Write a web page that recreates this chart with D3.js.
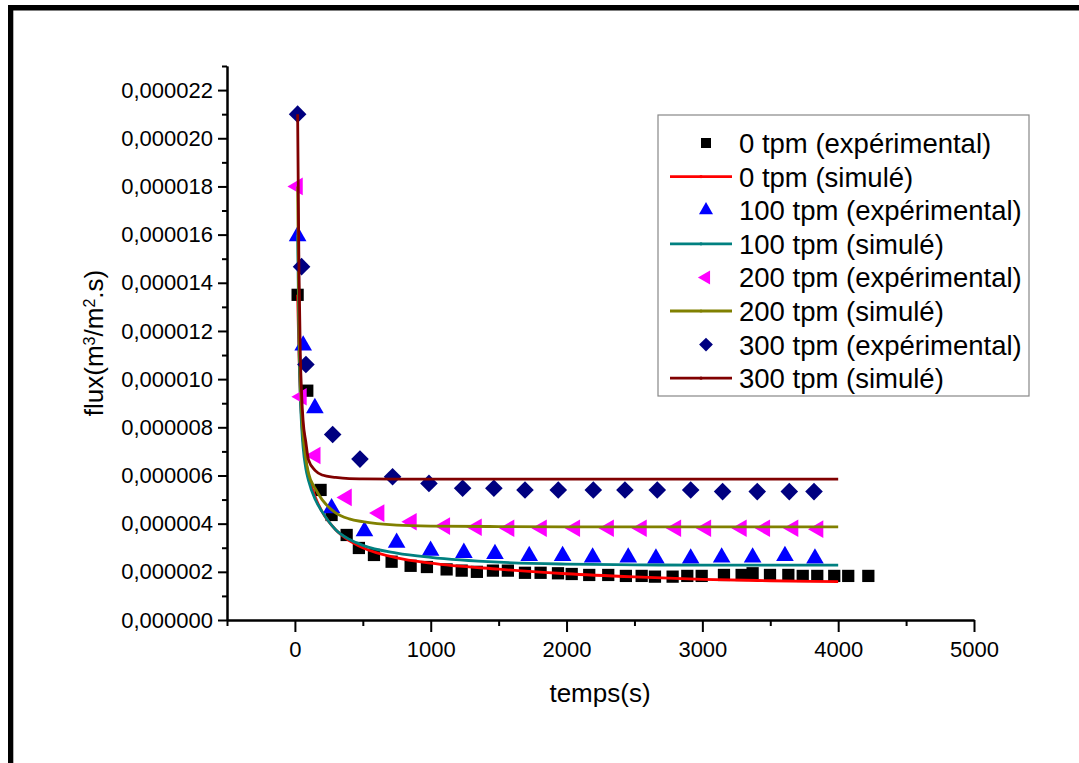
<!DOCTYPE html>
<html>
<head>
<meta charset="utf-8">
<script src="https://cdn.jsdelivr.net/npm/d3@7"></script>
<style>
  html, body { margin: 0; padding: 0; background: #fff; }
  svg { display: block; font-family: "Liberation Sans", Arial, sans-serif; }
</style>
</head>
<body>
<svg id="chart" width="1079" height="763"></svg>
<script>
// Flux values are in units of 1e-6 m3/m2.s; times in seconds.
const exp0Time = [20, 91, 189, 270, 381, 471, 582, 712, 852, 972, 1117, 1228, 1340, 1458, 1568, 1694, 1809, 1937, 2038, 2167, 2307, 2437, 2553, 2651, 2781, 2889, 2995, 3159, 3289, 3370, 3498, 3633, 3739, 3846, 3971, 4074, 4222];
const exp0Flux = [13.5, 9.52, 5.4, 4.36, 3.53, 2.99, 2.70, 2.42, 2.25, 2.20, 2.10, 2.05, 2.00, 2.05, 2.05, 1.96, 1.96, 1.94, 1.91, 1.87, 1.87, 1.83, 1.83, 1.80, 1.80, 1.83, 1.83, 1.87, 1.87, 1.94, 1.87, 1.87, 1.83, 1.83, 1.83, 1.83, 1.83];

const exp100Time = [20, 61, 147, 270, 512, 749, 999, 1244, 1473, 1725, 1971, 2192, 2454, 2658, 2914, 3142, 3370, 3608, 3829];
const exp100Flux = [15.94, 11.4, 8.8, 4.64, 3.69, 3.21, 2.88, 2.79, 2.74, 2.66, 2.66, 2.60, 2.60, 2.56, 2.56, 2.60, 2.60, 2.66, 2.56];

const exp200Time = [20, 49, 151, 381, 621, 859, 1105, 1338, 1578, 1817, 2062, 2311, 2553, 2806, 3027, 3289, 3461, 3669, 3853];
const exp200Flux = [18.0, 9.27, 6.83, 5.09, 4.44, 4.08, 3.90, 3.85, 3.81, 3.81, 3.81, 3.81, 3.81, 3.81, 3.81, 3.81, 3.81, 3.81, 3.77];

const exp300Time = [20, 49, 81, 278, 479, 719, 987, 1235, 1465, 1694, 1939, 2197, 2430, 2668, 2914, 3149, 3404, 3640, 3822];
const exp300Flux = [21.0, 14.67, 10.61, 7.70, 6.68, 5.95, 5.67, 5.47, 5.47, 5.40, 5.40, 5.40, 5.40, 5.40, 5.40, 5.33, 5.33, 5.33, 5.33];

const simTime = [20, 30, 40, 50, 60, 80, 100, 150, 200, 300, 400, 500, 750, 1000, 1500, 2000, 2500, 3000, 3500, 4000];
const sim0Flux   = [13.5, 11.0, 9.4, 8.3, 7.5, 6.6, 6.0, 5.1, 4.5, 3.75, 3.3, 3.0, 2.58, 2.36, 2.11, 1.92, 1.79, 1.69, 1.63, 1.59];
const sim100Flux = [16.0, 11.5, 9.2, 8.0, 7.2, 6.3, 5.8, 5.0, 4.5, 3.75, 3.35, 3.1, 2.78, 2.6, 2.4, 2.32, 2.29, 2.28, 2.28, 2.28];
const sim200Flux = [18.0, 12.5, 10.0, 8.6, 7.7, 6.7, 6.1, 5.45, 5.0, 4.45, 4.2, 4.08, 3.94, 3.9, 3.88, 3.87, 3.87, 3.87, 3.87, 3.87];
const sim300Flux = [21.0, 14.5, 11.0, 9.3, 8.3, 7.4, 6.65, 6.2, 6.02, 5.92, 5.87, 5.86, 5.85, 5.85, 5.85, 5.85, 5.85, 5.85, 5.85, 5.85];

const xMajorTicks = [0, 1000, 2000, 3000, 4000, 5000];
const xMinorTicks = [-500, 500, 1500, 2500, 3500, 4500];
const yMajorTicks = [0, 2, 4, 6, 8, 10, 12, 14, 16, 18, 20, 22];
const yMinorTicks = [1, 3, 5, 7, 9, 11, 13, 15, 17, 19, 21, 23];

const legendLabels = [
  "0 tpm (expérimental)", "0 tpm (simulé)",
  "100 tpm (expérimental)", "100 tpm (simulé)",
  "200 tpm (expérimental)", "200 tpm (simulé)",
  "300 tpm (expérimental)", "300 tpm (simulé)"
];

const svg = d3.select("#chart");

// outer frame (top and left black edges)
svg.append("rect").attr("x", 8).attr("y", 5).attr("width", 1071).attr("height", 5.5).attr("fill", "#000");
svg.append("rect").attr("x", 8).attr("y", 5).attr("width", 5.3).attr("height", 758).attr("fill", "#000");

const x = d3.scaleLinear().domain([-500, 5000]).range([227, 974]);
const y = d3.scaleLinear().domain([0, 23]).range([620, 66]);

const fmtY = v => d3.format(".6f")(v * 1e-6).replace(".", ",");

// axes
const gx = svg.append("g").attr("transform", `translate(0,${y(0)})`);
gx.call(d3.axisBottom(x).tickValues(xMajorTicks).tickSize(12).tickSizeOuter(0).tickPadding(6).tickFormat(d3.format("d")));
gx.append("g").call(d3.axisBottom(x).tickValues(xMinorTicks).tickSize(6).tickSizeOuter(0).tickFormat(""));
const gy = svg.append("g").attr("transform", `translate(${x(-500)},0)`);
gy.call(d3.axisLeft(y).tickValues(yMajorTicks).tickSize(9).tickSizeOuter(0).tickPadding(5).tickFormat(fmtY));
gy.append("g").call(d3.axisLeft(y).tickValues(yMinorTicks).tickSize(5).tickSizeOuter(0).tickFormat(""));

svg.selectAll(".domain").attr("stroke", "#000").attr("stroke-width", 2);
svg.selectAll(".tick line").attr("stroke", "#000").attr("stroke-width", 2);
svg.selectAll(".tick text").attr("font-size", 22).attr("fill", "#000")
  .attr("font-family", "'Liberation Sans', Arial, sans-serif");
gx.selectAll(".tick text").attr("dy", "0.85em");

// axis titles
svg.append("text").attr("x", 600).attr("y", 702).attr("text-anchor", "middle")
  .attr("font-size", 26).attr("fill", "#000").text("temps(s)");
const yt = svg.append("text").attr("transform", "translate(103,343) rotate(-90)")
  .attr("text-anchor", "middle").attr("font-size", 26).attr("fill", "#000");
yt.append("tspan").text("flux(m");
yt.append("tspan").attr("baseline-shift", "super").attr("font-size", 16).text("3");
yt.append("tspan").text("/m");
yt.append("tspan").attr("baseline-shift", "super").attr("font-size", 16).text("2");
yt.append("tspan").text(".s)");

// marker shapes
const shapes = {
  square:   { sym: d3.symbolSquare,   size: 150, rot: 0 },
  triangle: { sym: d3.symbolTriangle, size: 135, rot: 0 },
  left:     { sym: d3.symbolTriangle, size: 135, rot: -90 },
  diamond:  { sym: d3.symbolSquare,   size: 155, rot: 45 }
};

const series = [
  { times: exp0Time,   flux: exp0Flux,   color: "#000000", shape: "square" },
  { times: simTime,    flux: sim0Flux,   color: "#ff0000", line: true },
  { times: exp100Time, flux: exp100Flux, color: "#0000ff", shape: "triangle" },
  { times: simTime,    flux: sim100Flux, color: "#008080", line: true },
  { times: exp200Time, flux: exp200Flux, color: "#ff00ff", shape: "left" },
  { times: simTime,    flux: sim200Flux, color: "#808000", line: true },
  { times: exp300Time, flux: exp300Flux, color: "#000080", shape: "diamond" },
  { times: simTime,    flux: sim300Flux, color: "#800000", line: true }
];

const lineGen = d3.line().x(d => x(d[0])).y(d => y(d[1])).curve(d3.curveMonotoneX);
const plot = svg.append("g");

series.forEach(s => {
  const pts = s.times.map((t, i) => [t, s.flux[i]]);
  if (s.line) {
    plot.append("path").datum(pts).attr("d", lineGen)
      .attr("fill", "none").attr("stroke", s.color).attr("stroke-width", 2.8);
  } else {
    const sh = shapes[s.shape];
    plot.append("g").selectAll("path").data(pts).join("path")
      .attr("d", d3.symbol(sh.sym, sh.size))
      .attr("transform", d => `translate(${x(d[0])},${y(d[1])}) rotate(${sh.rot})`)
      .attr("fill", s.color);
  }
});

// legend
const lg = svg.append("g");
lg.append("rect").attr("x", 658).attr("y", 115).attr("width", 371).attr("height", 281)
  .attr("fill", "#fff").attr("stroke", "#888").attr("stroke-width", 1.2);
const legendSizes = { square: 100, triangle: 85, left: 85, diamond: 95 };
series.forEach((s, i) => {
  const cy = 143 + i * 33.6;
  if (s.line) {
    lg.append("line").attr("x1", 670).attr("x2", 732).attr("y1", cy).attr("y2", cy)
      .attr("stroke", s.color).attr("stroke-width", 2.8);
    lg.append("circle").attr("cx", 701).attr("cy", cy).attr("r", 1.6).attr("fill", s.color);
  } else {
    const sh = shapes[s.shape];
    lg.append("path").attr("d", d3.symbol(sh.sym, legendSizes[s.shape]))
      .attr("transform", `translate(706,${cy}) rotate(${sh.rot})`).attr("fill", s.color);
  }
  lg.append("text").attr("x", 739).attr("y", cy).attr("dy", "0.36em")
    .attr("font-size", 27.5).attr("fill", "#000").text(legendLabels[i]);
});
</script>
</body>
</html>
